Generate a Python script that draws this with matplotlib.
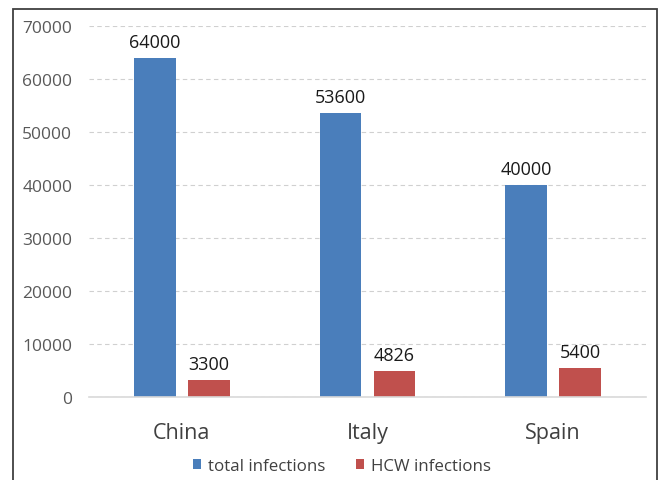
import matplotlib.pyplot as plt
import matplotlib.patches as mpatches
import numpy as np

plt.rcParams['font.family'] = ['Open Sans', 'DejaVu Sans']

countries = ["China", "Italy", "Spain"]
total_infections = [64000, 53600, 40000]
hcw_infections = [3300, 4826, 5400]

blue = "#4a7ebb"
red = "#c0504d"

fig = plt.figure(figsize=(6.59, 4.81), dpi=100)
ax = fig.add_axes([89 / 659, 83 / 481, 557 / 659, 371 / 481])

x = np.arange(len(countries))
w = 0.225
off = 0.145
b1 = ax.bar(x - off, total_infections, w, color=blue, label="total infections")
b2 = ax.bar(x + off, hcw_infections, w, color=red, label="HCW infections")

for bars in (b1, b2):
    for rect in bars:
        h = rect.get_height()
        ax.annotate(f"{h:.0f}", (rect.get_x() + rect.get_width() / 2, h),
                    xytext=(0, 5), textcoords="offset points",
                    ha="center", va="bottom", fontsize=13, color="#1a1a1a")

ax.set_xlim(-0.5, len(countries) - 0.5)
ax.set_ylim(0, 70000)
ax.set_yticks(np.arange(0, 70001, 10000))
ax.set_xticks(x)
ax.set_xticklabels(countries, fontsize=15.5, color="#404040")
ax.tick_params(axis="y", labelsize=12.5, labelcolor="#595959", length=0, pad=12)
ax.tick_params(axis="x", length=0, pad=18)

ax.yaxis.grid(True, linestyle=(0, (4, 3)), color="#d0d0d0", linewidth=0.8)
ax.set_axisbelow(True)
for s in ["top", "right", "left"]:
    ax.spines[s].set_visible(False)
ax.spines["bottom"].set_color("#d9d9d9")
ax.spines["bottom"].set_linewidth(1.2)

fig.legend(loc="center", bbox_to_anchor=(342 / 659, 1 - 467 / 481), ncol=2,
           frameon=False, fontsize=12.2, handlelength=0.5, handleheight=0.5,
           handletextpad=0.4, columnspacing=1.8, labelcolor="#404040")

# outer frame around the whole chart
frame = mpatches.Rectangle((13 / 659, -0.05), 644 / 659, 1.05 - 10 / 481,
                           transform=fig.transFigure, fill=False,
                           edgecolor="#404040", linewidth=1.3, clip_on=False)
fig.patches.append(frame)

fig.savefig("out.png", dpi=100)
